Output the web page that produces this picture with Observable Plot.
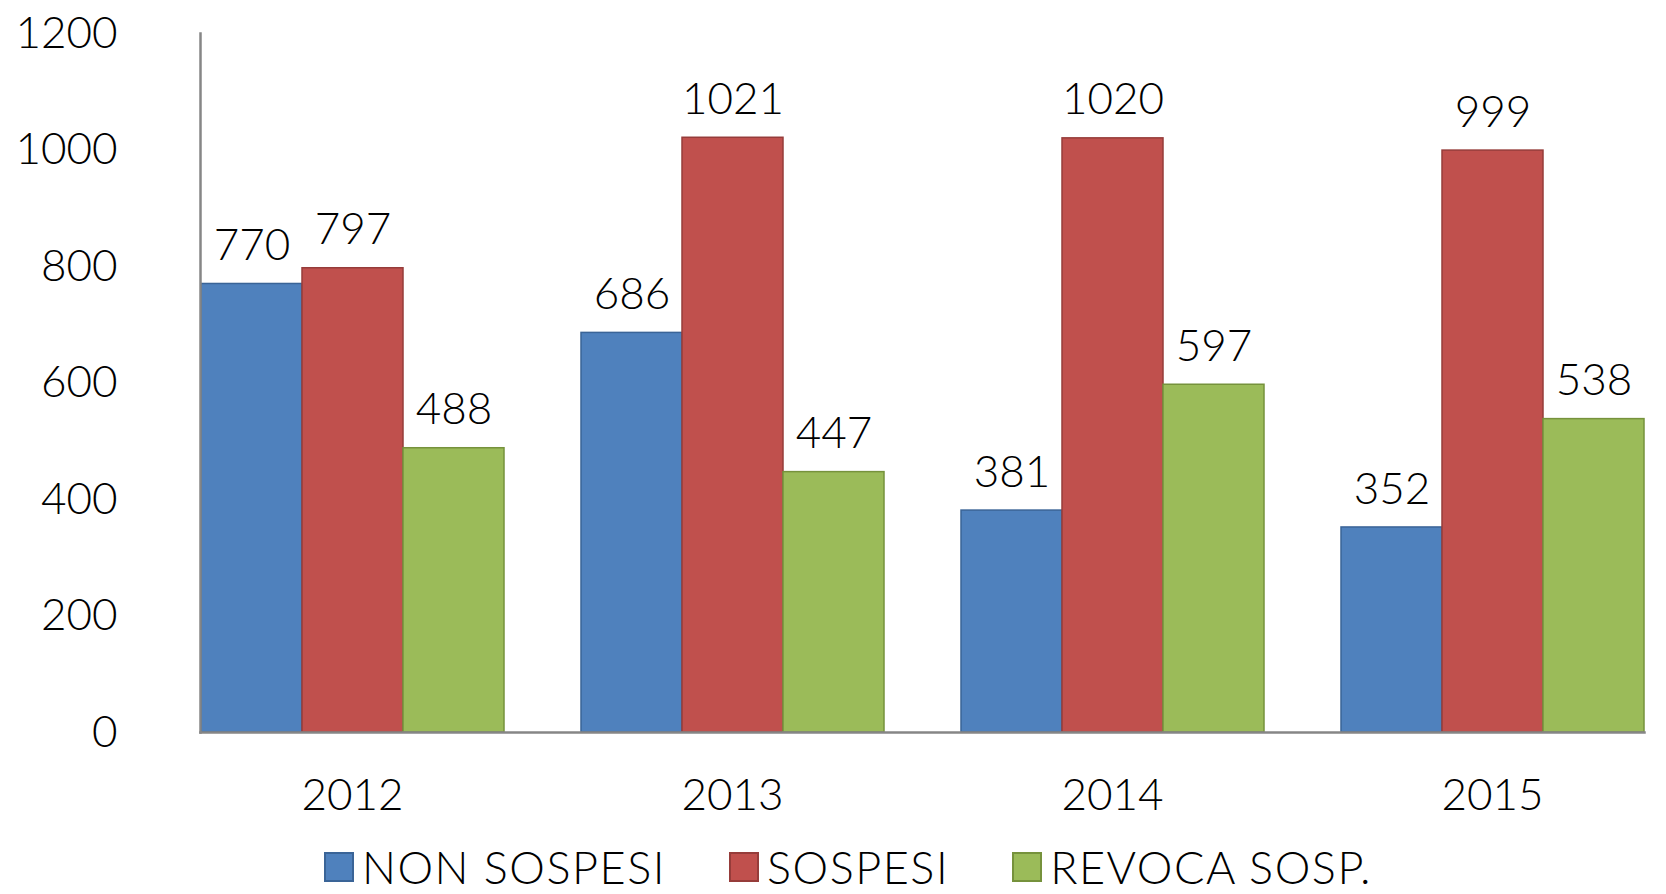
<!DOCTYPE html>
<html>
<head>
<meta charset="utf-8">
<script src="https://cdn.jsdelivr.net/npm/d3@7"></script>
<script src="https://cdn.jsdelivr.net/npm/@observablehq/plot@0.6"></script>
<style>
  body { margin: 0; background: #fff; font-family: Lato, "Open Sans", sans-serif; overflow: hidden; }
  #legend { display: flex; align-items: center; height: 54px; padding-top: 0; padding-left: 324px; box-sizing: border-box; }
  .item { display: flex; align-items: center; font-size: 45px; line-height: 1; letter-spacing: 1.5px; font-weight: 300; color: #000; margin-right: 63px; }
  .sw { width: 30px; height: 30px; box-sizing: border-box; border: 2px solid; margin-right: 8px; }
</style>
</head>
<body>
<div id="chart"></div>
<div id="legend"></div>
<script>
const years = ["2012", "2013", "2014", "2015"];
const series = ["NON SOSPESI", "SOSPESI", "REVOCA SOSP."];
const nonSospesi = [770, 686, 381, 352];
const sospesi = [797, 1021, 1020, 999];
const revocaSosp = [488, 447, 597, 538];
const yTicks = [0, 200, 400, 600, 800, 1000, 1200];
const colors = ["#4F81BD", "#C0504D", "#9BBB59"];
const strokes = ["#3A6497", "#963C3A", "#76923C"];

const valuesBySeries = [nonSospesi, sospesi, revocaSosp];
const data = years.flatMap((year, i) =>
  series.map((s, j) => ({ year, series: s, value: valuesBySeries[j][i] }))
);

const plot = Plot.plot({
  width: 1666,
  height: 840,
  marginLeft: 162,
  marginRight: 0,
  marginTop: 33,
  marginBottom: 108,
  style: { fontFamily: "Lato, 'Open Sans', sans-serif", fontSize: "44px", fontWeight: 300, color: "#000", background: "#fff" },
  fx: { domain: years, range: [162, 1682], paddingInner: 0.2, paddingOuter: 0.1, label: null, axis: "bottom", tickSize: 0, tickPadding: 46 },
  x: { domain: series, padding: 0, axis: null },
  y: { domain: [0, 1200], ticks: yTicks, tickFormat: d => String(d), tickSize: 0, tickPadding: 83, label: null },
  color: { domain: series, range: colors },
  marks: [
    Plot.barY(data, { fx: "year", x: "series", y: "value", fill: "series",
      stroke: d => strokes[series.indexOf(d.series)], strokeWidth: 1.5 }),
    Plot.text(data, { fx: "year", x: "series", y: "value", text: d => String(d.value),
      dy: -38, fontSize: 44, fill: "#000" }),
    Plot.frame({ anchor: "bottom", facet: "super", stroke: "#868686", strokeWidth: 2.5 }),
    Plot.frame({ anchor: "left", facet: "super", stroke: "#868686", strokeWidth: 2.5 })
  ]
});
document.getElementById("chart").appendChild(plot);

const legend = document.getElementById("legend");
series.forEach((s, j) => {
  const item = document.createElement("div");
  item.className = "item";
  const sw = document.createElement("div");
  sw.className = "sw";
  sw.style.background = colors[j];
  sw.style.borderColor = strokes[j];
  const label = document.createElement("span");
  label.textContent = s;
  item.appendChild(sw);
  item.appendChild(label);
  legend.appendChild(item);
});
</script>
</body>
</html>
